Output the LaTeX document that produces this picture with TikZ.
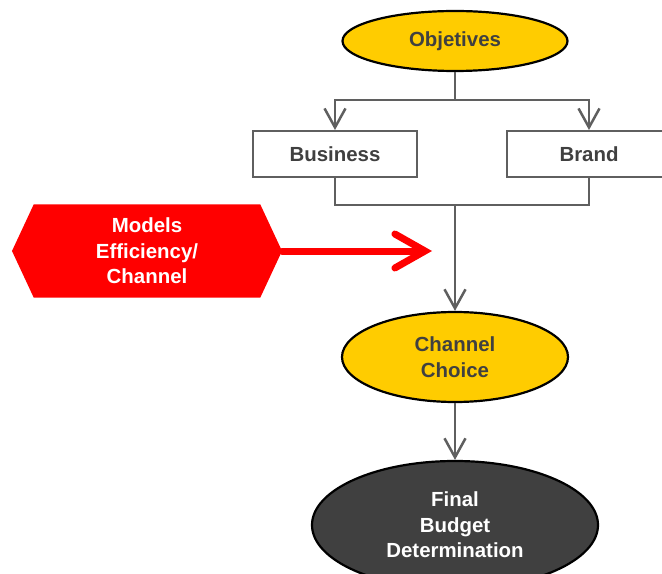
\documentclass[tikz,border=0pt]{standalone}
\usepackage{fontspec}
\setmainfont{Liberation Sans}
\usetikzlibrary{shapes.geometric,shapes.symbols,arrows.meta,positioning}
\definecolor{objyellow}{HTML}{FFCC00}
\definecolor{textgray}{HTML}{404040}
\definecolor{linegray}{HTML}{5F5F5F}
\definecolor{darkfill}{HTML}{404040}
\definecolor{modelred}{HTML}{FF0000}

\begin{document}
\begin{tikzpicture}[x=1bp, y=-1bp, font=\bfseries\fontsize{20.5}{25.5}\selectfont]

    % Styles of nodes and arrows
    \tikzstyle{goal} = [ellipse, draw=black, line width=2.2bp, fill=objyellow, text=textgray, align=center, minimum width=225bp, minimum height=60bp, inner sep=0pt]
    \tikzstyle{branch} = [rectangle, draw=linegray, line width=2bp, fill=white, text=textgray, minimum width=164bp, minimum height=46bp, inner sep=0pt]
    \tikzstyle{final} = [ellipse, draw=black, line width=2.2bp, fill=darkfill, text=white, align=center, minimum width=286bp, minimum height=128bp, inner sep=0pt]
    \tikzstyle{model} = [signal, signal to=west and east, signal pointer angle=130, fill=modelred, text=white, align=center, minimum width=270bp, minimum height=93bp, inner sep=0pt]
    \tikzstyle{arrow} = [draw=linegray, line width=2.5bp, -{Straight Barb[length=19bp, width=21bp]}]
    \tikzstyle{link} = [draw=linegray, line width=2.5bp]
    \tikzstyle{redarrow} = [draw=modelred, line width=7bp, line cap=round, -{Straight Barb[length=30bp, width=34bp, line cap=round]}]

    \useasboundingbox (0,0) rectangle (662,574);

    % Nodes of the diagram
    \node (objetives) [goal] at (455,41) {Objetives};
    \node (business) [branch] at (335,154) {Business};
    \node (brand) [branch] at (589,154) {Brand};
    \node (choice) [goal, minimum width=226bp, minimum height=90bp] at (455,357) {Channel\\Choice};
    \node (budget) [final] at (455,525) {Final\\Budget\\Determination};
    \node (models) [model] at (147,251) {Models\\Efficiency/\\Channel};
    \coordinate (split) at (455,100);
    \coordinate (merge) at (455,205);
    \coordinate (target) at (432,251);

    % Arrows between nodes
    \draw [link] (objetives.south) -- (split);
    \draw [arrow] (split) -| (business.north);
    \draw [arrow] (split) -| (brand.north);
    \draw [link] (business.south) |- (merge);
    \draw [link] (brand.south) |- (merge);
    \draw [arrow] (merge) -- (choice.north);
    \draw [arrow] (choice.south) -- (budget.north);
    \draw [redarrow] (models.east) -- (target);

\end{tikzpicture}
\end{document}
